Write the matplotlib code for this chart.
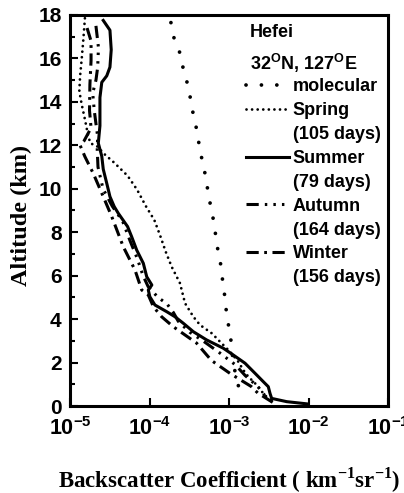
import numpy as np
import matplotlib
matplotlib.use("Agg")
import matplotlib.pyplot as plt
from matplotlib.ticker import MultipleLocator, LogLocator, NullFormatter, FixedLocator, FixedFormatter
from matplotlib.lines import Line2D

# data: altitude (km) and backscatter coefficient (km-1 sr-1)
molecular_alt = [17.65, 16.88, 16.24, 15.52, 14.78, 14.09, 13.40, 12.71, 11.98, 11.28,
                 10.56, 9.87, 9.18, 8.49, 7.77, 7.06, 6.45, 5.72, 4.97, 4.19,
                 3.50, 2.90, 2.27, 1.58, 0.74]
molecular_val = [1.86e-4, 2.05e-4, 2.42e-4, 2.66e-4, 3.03e-4, 3.30e-4, 3.56e-4, 3.93e-4, 4.23e-4, 4.61e-4,
                 5.09e-4, 5.44e-4, 5.89e-4, 6.43e-4, 6.85e-4, 7.33e-4, 7.93e-4, 8.34e-4, 8.91e-4, 9.35e-4,
                 1.01e-3, 1.07e-3, 1.11e-3, 1.19e-3, 1.35e-3]

spring_alt = [17.85, 16.85, 15.93, 15.2, 14.5, 13.9, 13.2, 12.5, 12.1, 11.95, 11.6, 11.2,
              10.6, 9.95, 9.2, 8.56, 7.85, 7.1, 6.41, 5.65, 5.34, 4.73, 4.11, 3.73,
              3.35, 2.96, 2.50, 2.04, 1.66, 1.35, 0.97, 0.58, 0.25]
spring_val = [1.54e-5, 1.47e-5, 1.40e-5, 1.34e-5, 1.31e-5, 1.40e-5, 1.54e-5, 1.68e-5, 1.8e-5, 2.2e-5, 2.7e-5, 3.6e-5,
              5.3e-5, 7.0e-5, 9.0e-5, 1.15e-4, 1.36e-4, 1.6e-4, 1.9e-4, 2.42e-4, 2.54e-4, 2.80e-4, 3.56e-4, 4.32e-4,
              6.06e-4, 7.71e-4, 1.03e-3, 1.31e-3, 1.51e-3, 1.75e-3, 2.23e-3, 2.70e-3, 3.3e-3]

summer_alt = [17.75, 17.3, 16.4, 15.6, 15.2, 14.9, 14.2, 13.6, 12.9, 12.1, 11.5, 10.9,
              10.25, 9.64, 9.18, 8.87, 8.26, 7.79, 7.18, 6.57, 5.95, 5.57, 5.34, 5.03,
              4.65, 4.34, 4.11, 3.81, 3.42, 3.04, 2.66, 2.35, 1.97, 1.51, 1.12, 0.89,
              0.58, 0.35, 0.20, 0.10]
summer_val = [2.62e-5, 3.18e-5, 3.3e-5, 3.18e-5, 2.9e-5, 2.51e-5, 2.38e-5, 2.38e-5, 2.38e-5, 2.27e-5, 2.51e-5, 2.62e-5,
              2.9e-5, 3.18e-5, 3.6e-5, 4.05e-5, 5.3e-5, 5.97e-5, 6.9e-5, 8.36e-5, 9.23e-5, 1.07e-4, 9.66e-5, 1.01e-4,
              1.17e-4, 1.65e-4, 2.09e-4, 2.66e-4, 3.56e-4, 5.24e-4, 8.48e-4, 1.13e-3, 1.59e-3, 2.12e-3, 2.70e-3, 3.12e-3,
              3.28e-3, 3.44e-3, 5.32e-3, 9.48e-3]

autumn_alt = [17.5, 16.5, 15.6, 15.0, 14.4, 13.6, 13.0, 12.4, 11.8, 11.0, 10.0, 9.2,
              8.5, 7.6, 6.8, 6.0, 5.5, 5.0, 4.7, 4.3, 3.9, 3.4, 3.0, 2.5,
              1.9, 1.4, 0.9, 0.5, 0.2]
autumn_val = [2.12e-5, 2.28e-5, 2.23e-5, 2.12e-5, 1.93e-5, 2.02e-5, 2.12e-5, 2.23e-5, 2.2e-5, 2.25e-5, 2.6e-5, 3.4e-5,
              4.6e-5, 5.7e-5, 7.0e-5, 8.3e-5, 9.6e-5, 1.28e-4, 1.66e-4, 2.0e-4, 2.3e-4, 3.2e-4, 4.7e-4, 7.3e-4,
              1.2e-3, 1.6e-3, 2.3e-3, 2.8e-3, 3.5e-3]

winter_alt = [17.4, 16.8, 15.9, 14.8, 13.6, 12.8, 12.2, 12.0, 11.48, 10.71, 9.64, 8.72,
              7.33, 6.26, 5.34, 5.11, 4.57, 4.11, 3.65, 2.9, 2.1, 1.5, 0.9, 0.6, 0.3, 0.1]
winter_val = [1.64e-5, 1.84e-5, 1.84e-5, 1.78e-5, 1.76e-5, 1.84e-5, 1.5e-5, 1.34e-5, 1.54e-5, 1.96e-5, 2.62e-5, 3.35e-5,
              4.68e-5, 6.57e-5, 7.98e-5, 9.66e-5, 1.12e-4, 1.42e-4, 1.99e-4, 3.9e-4, 6.0e-4, 1.03e-3, 1.9e-3, 2.3e-3, 3.1e-3, 3.8e-3]

x_ticks = [1e-5, 1e-4, 1e-3, 1e-2, 1e-1]
x_ticklabels = [r'$\mathdefault{10^{-5}}$', r'$\mathdefault{10^{-4}}$', r'$\mathdefault{10^{-3}}$',
                r'$\mathdefault{10^{-2}}$', r'$\mathdefault{10^{-1}}$']
y_ticks = [0, 2, 4, 6, 8, 10, 12, 14, 16, 18]

plt.rcParams['font.family'] = 'Liberation Sans'
plt.rcParams['font.weight'] = 'bold'
plt.rcParams['axes.unicode_minus'] = False

fig = plt.figure(figsize=(4.04, 4.93), dpi=100)
ax = fig.add_axes([70/404, 1 - 406/493, 318/404, 391/493])

# line styles
st_mol = dict(color='black', lw=2.7, linestyle=(0, (0.01, 4.1)), dash_capstyle='round')
st_spr = dict(color='black', lw=2.0, linestyle=(0, (0.01, 2.0)), dash_capstyle='round')
st_sum = dict(color='black', lw=2.2, linestyle='-')
st_aut = dict(color='black', lw=2.2, linestyle=(0, (4.0, 2.0, 0.8, 2.0, 0.8, 2.0, 0.8, 2.0)))
st_win = dict(color='black', lw=2.2, linestyle=(0, (4.0, 1.8, 0.9, 1.8)))

ax.plot(molecular_val, molecular_alt, **st_mol)
ax.plot(spring_val, spring_alt, **st_spr)
ax.plot(summer_val, summer_alt, **st_sum)
ax.plot(autumn_val, autumn_alt, **st_aut)
ax.plot(winter_val, winter_alt, **st_win)

ax.set_xscale('log')
ax.set_xlim(1e-5, 1e-1)
ax.set_ylim(0, 18)

ax.xaxis.set_major_locator(FixedLocator(x_ticks))
ax.xaxis.set_major_formatter(FixedFormatter(x_ticklabels))
ax.xaxis.set_minor_locator(LogLocator(base=10, subs=np.arange(2, 10)))
ax.xaxis.set_minor_formatter(NullFormatter())
ax.set_yticks(y_ticks)
ax.yaxis.set_minor_locator(MultipleLocator(1))

ax.tick_params(which='both', direction='in', top=False, right=False, width=1.5)
ax.tick_params(which='major', length=6)
ax.tick_params(which='minor', length=3.5)
ax.tick_params(axis='x', which='major', pad=8, labelsize=15.5)
ax.tick_params(axis='y', which='major', pad=6, labelsize=15)
for lab in ax.get_xticklabels() + ax.get_yticklabels():
    lab.set_fontweight('bold')

for s in ax.spines.values():
    s.set_linewidth(2.2)

ax.set_xlabel(r'Backscatter Coefficient ( km$^{\mathdefault{-1}}$sr$^{\mathdefault{-1}}$)',
              family='Liberation Serif', fontweight='bold', fontsize=16.5, labelpad=18)
ax.set_ylabel('Altitude (km)', family='Liberation Serif', fontweight='bold', fontsize=17.5)
ax.yaxis.set_label_coords(-0.12, 0.488)

# legend block
ax.text(0.565, 0.954, 'Hefei', transform=ax.transAxes, fontsize=13, fontweight='bold', va='center')
ax.text(0.565, 0.877, r'32$^{\mathdefault{O}}$N, 127$^{\mathdefault{O}}$E', transform=ax.transAxes,
        fontsize=13, fontweight='bold', va='center')

blank = Line2D([], [], linestyle='none')
handles = [Line2D([], [], **st_mol), Line2D([], [], **st_spr), blank,
           Line2D([], [], **st_sum), blank, Line2D([], [], **st_aut), blank,
           Line2D([], [], **st_win), blank]
labels = ['molecular', 'Spring', '(105 days)', 'Summer', '(79 days)',
          'Autumn', '(164 days)', 'Winter', '(156 days)']
ax.legend(handles, labels, loc='upper left', bbox_to_anchor=(0.555, 0.838), frameon=False,
          prop={'weight': 'bold', 'size': 13}, handlelength=2.35, handletextpad=0.2,
          labelspacing=0.38, borderpad=0, borderaxespad=0)

fig.savefig('out.png', dpi=100)
